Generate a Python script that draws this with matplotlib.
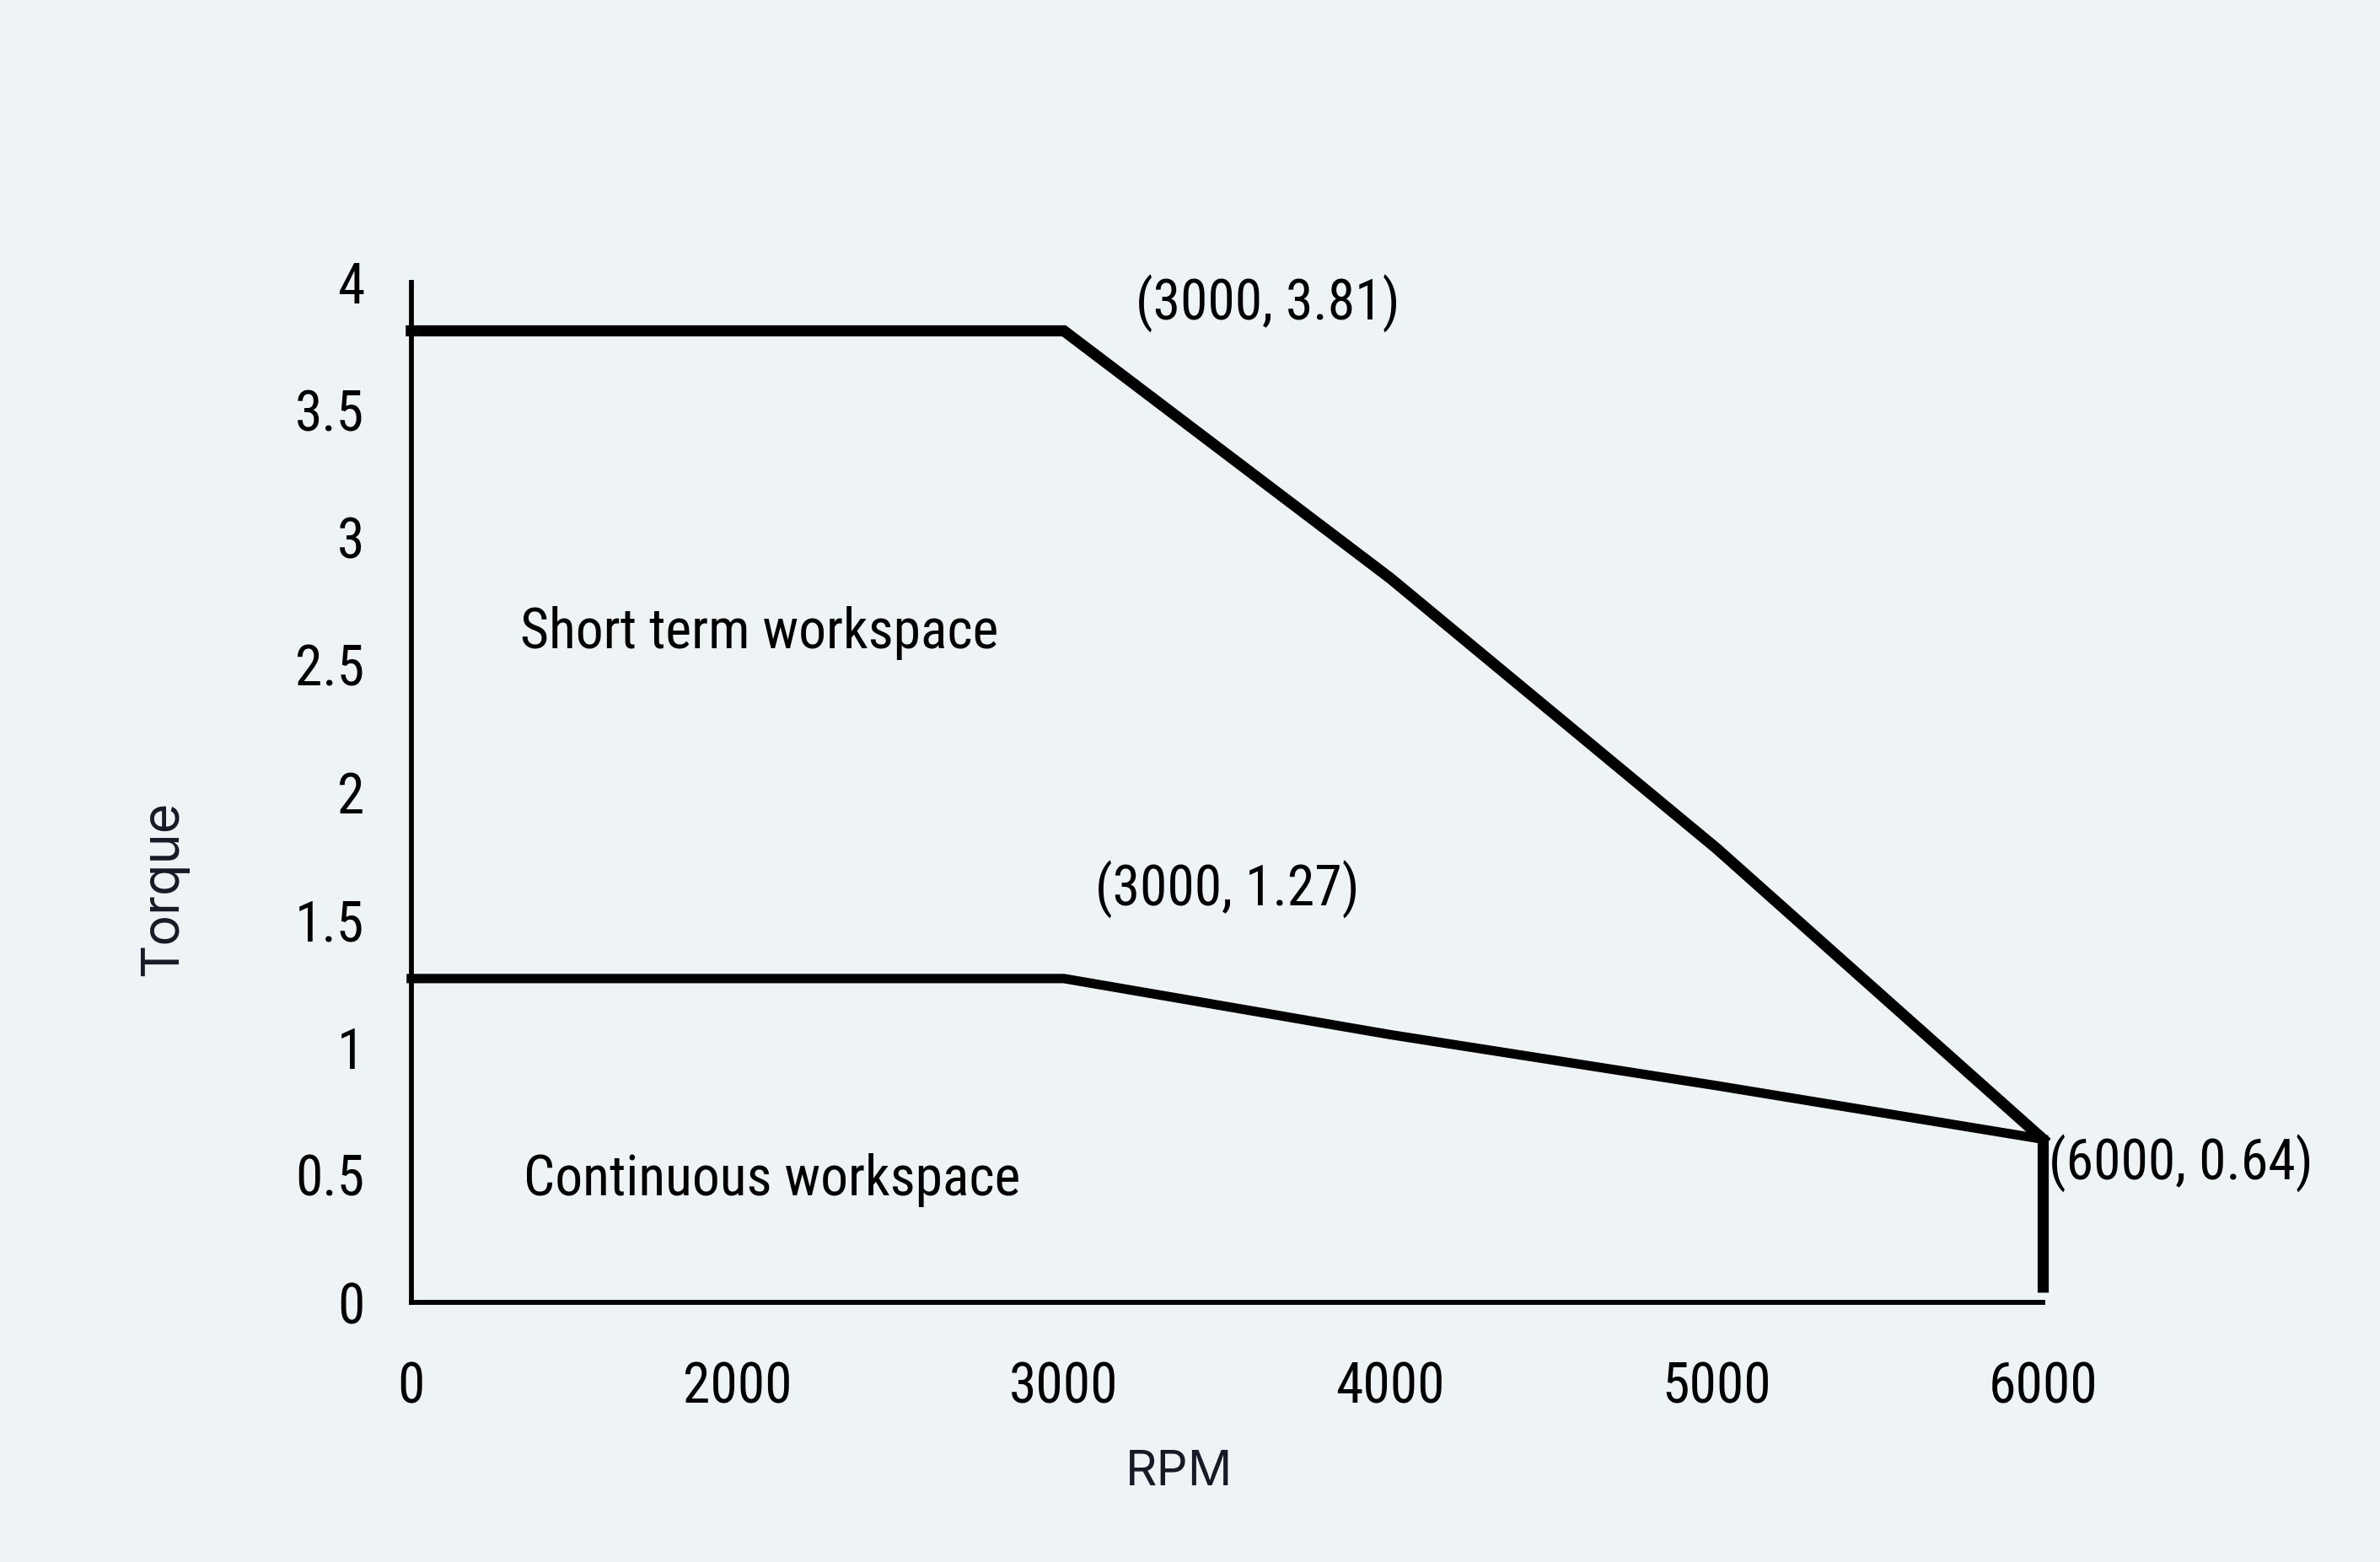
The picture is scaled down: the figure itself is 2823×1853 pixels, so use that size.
import numpy as np
import matplotlib
matplotlib.use('Agg')  # Use non-interactive backend
import matplotlib.pyplot as plt
from matplotlib import font_manager
from matplotlib.font_manager import FontProperties

# Torque / speed curve data
rpm_labels = ["0", "2000", "3000", "4000", "5000", "6000"]
short_term = [3.81, 3.81, 3.81, 2.84, 1.78, 0.64]
continuous = [1.27, 1.27, 1.27, 1.05, 0.85, 0.64]
edge_bottom = 0.04
y_ticks = [0, 0.5, 1, 1.5, 2, 2.5, 3, 3.5, 4]
y_tick_labels = ["0", "0.5", "1", "1.5", "2", "2.5", "3", "3.5", "4"]
zone_labels = ["Short term workspace", "Continuous workspace"]

BG = '#eef3f6'
LABEL_COLOR = '#141a26'


def narrow_font_file():
    """Find the narrowest regular sans font file that is installed."""
    entries = font_manager.fontManager.ttflist
    for key in ['ExtraCondensed-Regular', 'ExtraCondensed.', 'Condensed-Regular',
                'Condensed.', 'SemiCondensed-Regular', 'Narrow-Regular', 'Narrow.']:
        for name in ['NotoSans', 'OpenSans', 'Roboto', 'DejaVuSans', 'LiberationSans']:
            for f in entries:
                base = f.fname.split('/')[-1]
                if base.startswith(name + '-' + key) or base.startswith(name + key) \
                        or (base.startswith(name) and key in base and 'Italic' not in base
                            and 'Mono' not in base):
                    return f.fname
    return None


fname = narrow_font_file()
if fname:
    cond = FontProperties(fname=fname)
else:
    cond = FontProperties(family='Liberation Mono')

plain = 'Inter'

fig = plt.figure(figsize=(28.23, 18.53), dpi=100)
fig.patch.set_facecolor(BG)
ax = fig.add_axes([0.1728, 0.1662, 0.6856, 0.6530])
ax.set_facecolor(BG)

# pick a font size so the zone label has the reference width (567 px)
renderer = fig.canvas.get_renderer()
probe = fig.text(0, 0, zone_labels[0], fontproperties=cond, fontsize=40)
w = probe.get_window_extent(renderer).width
probe.remove()
fs = 40 * 567 / w

x = np.arange(len(rpm_labels))

# Curves
ax.plot(x, short_term, color='black', lw=9.5, solid_joinstyle='miter', clip_on=False)
ax.plot(x, continuous, color='black', lw=8, solid_joinstyle='miter', clip_on=False)
ax.plot([x[-1], x[-1]], [continuous[-1], edge_bottom], color='black', lw=9.5,
        solid_capstyle='butt', clip_on=False)

# Axes styling
ax.set_xlim(0, len(rpm_labels) - 1)
ax.set_ylim(0, 3.98)
for side in ['top', 'right']:
    ax.spines[side].set_visible(False)
for side in ['left', 'bottom']:
    ax.spines[side].set_linewidth(4.2)
    ax.spines[side].set_color('black')

ax.set_xticks(x)
ax.set_xticklabels(rpm_labels)
ax.set_yticks(y_ticks)
ax.set_yticklabels(y_tick_labels)
ax.tick_params(axis='both', length=0, labelcolor='black')
ax.tick_params(axis='x', pad=50)
ax.tick_params(axis='y', pad=40)
for lbl in ax.get_xticklabels() + ax.get_yticklabels():
    lbl.set_fontproperties(cond)
    lbl.set_fontsize(fs)

ax.set_xlabel('RPM', fontsize=42, color=LABEL_COLOR, family=plain, va='center')
ax.xaxis.set_label_coords(0.4707, -0.1667)
ax.set_ylabel('Torque', fontsize=44, color=LABEL_COLOR, family=plain, va='center', ha='center')
ax.yaxis.set_label_coords(-0.1516, 0.406)

# Point annotations
ann_style = dict(textcoords='offset points', fontproperties=cond, fontsize=fs,
                 color='black', ha='left', va='center', annotation_clip=False)
ax.annotate(f"({rpm_labels[2]}, {short_term[2]:.2f})", xy=(x[2], short_term[2]),
            xytext=(61, 23), **ann_style)
ax.annotate(f"({rpm_labels[2]}, {continuous[2]:.2f})", xy=(x[2], continuous[2]),
            xytext=(27, 76), **ann_style)
ax.annotate(f"({rpm_labels[-1]}, {continuous[-1]:.2f})", xy=(x[-1], continuous[-1]),
            xytext=(5, -21), **ann_style)

# Zone labels
ax.text(0.335, 2.625, zone_labels[0], fontproperties=cond, fontsize=fs, va='center', ha='left')
ax.text(0.345, 0.48, zone_labels[1], fontproperties=cond, fontsize=fs, va='center', ha='left')

plt.savefig('out.png', dpi=100, facecolor=BG)
plt.close(fig)
